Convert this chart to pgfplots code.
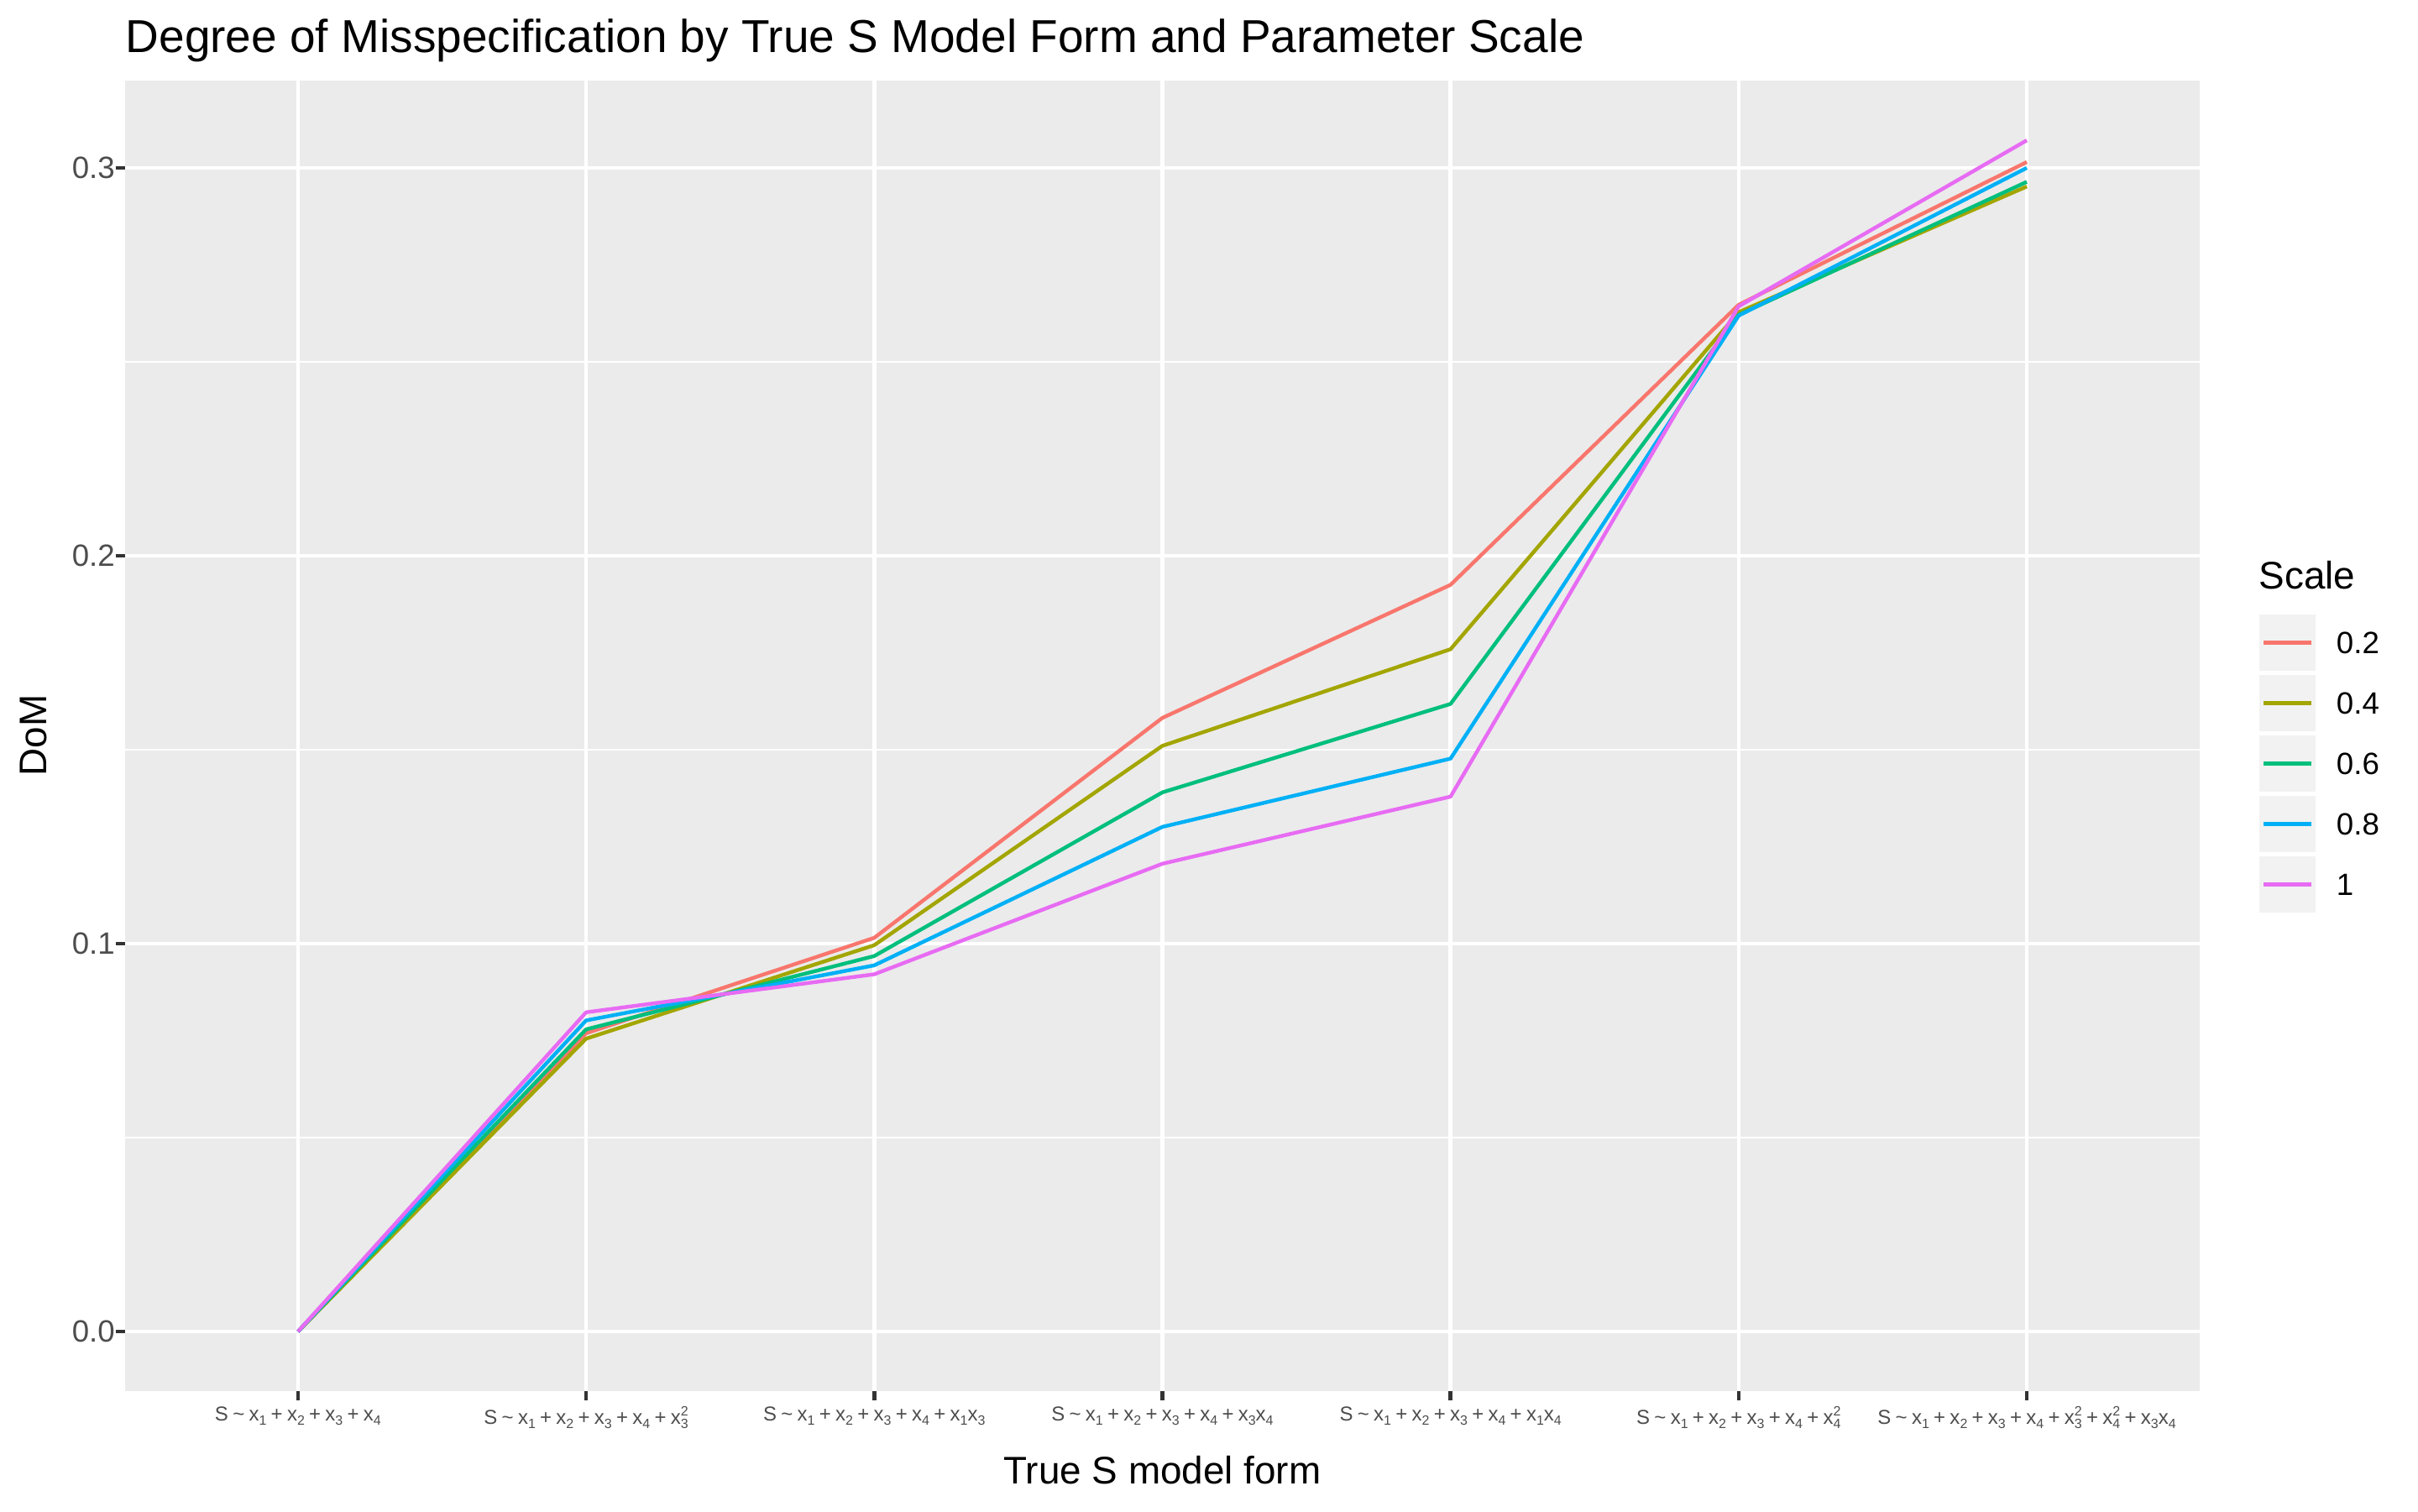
\documentclass[border=0pt]{standalone}
\usepackage{fontspec}
\setmainfont{Liberation Sans}
\usepackage{pgfplots}
\pgfplotsset{compat=1.18}
\definecolor{c1}{HTML}{F8766D}
\definecolor{c2}{HTML}{A3A500}
\definecolor{c3}{HTML}{00BF7D}
\definecolor{c4}{HTML}{00B0F6}
\definecolor{c5}{HTML}{E76BF3}
\definecolor{grey92}{HTML}{EBEBEB}
\definecolor{grey95}{HTML}{F2F2F2}
\definecolor{grey30}{HTML}{4D4D4D}
\definecolor{grey20}{HTML}{333333}
\newcommand{\subf}{\fontsize{4}{4}\selectfont}
\newcommand{\xs}[1]{x\raisebox{-1.25pt}{\subf #1}}
\newcommand{\xss}[2]{x\makebox[0pt][l]{\raisebox{2.5pt}{\subf #2}}\raisebox{-1.25pt}{\subf #1}}
\newcommand{\op}[1]{\hspace{0.22em}#1\hspace{0.22em}}
\newcommand{\Sy}{S\op{\textasciitilde}}
\newcommand{\base}{\xs{1}\op{+}\xs{2}\op{+}\xs{3}\op{+}\xs{4}}
\begin{document}
\begin{tikzpicture}
\begin{axis}[
  at={(37.25pt,35.75pt)}, anchor=south west,
  scale only axis, width=617.75pt, height=390.25pt,
  xmin=0.4, xmax=7.6, ymin=-0.01536, ymax=0.3225,
  axis background/.style={fill=grey92},
  axis x line*=bottom, axis y line*=left, axis line style={draw=none},
  xtick={1,2,3,4,5,6,7},
  xticklabels={
    {\Sy\base},
    {\Sy\base\op{+}\xss{3}{2}},
    {\Sy\base\op{+}\xs{1}\xs{3}},
    {\Sy\base\op{+}\xs{3}\xs{4}},
    {\Sy\base\op{+}\xs{1}\xs{4}},
    {\Sy\base\op{+}\xss{4}{2}},
    {\Sy\base\op{+}\xss{3}{2}\op{+}\xss{4}{2}\op{+}\xs{3}\xs{4}}},
  ytick={0,0.1,0.2,0.3}, yticklabels={0.0,0.1,0.2,0.3},
  minor ytick={0.05,0.15,0.25},
  xmajorgrids, ymajorgrids, yminorgrids,
  major grid style={white, line width=1.11pt},
  minor grid style={white, line width=0.56pt},
  tick align=outside, major tick length=2.86pt, minor tick length=0pt,
  tick style={grey20, line width=1.11pt},
  xticklabel style={anchor=north, inner sep=0pt, yshift=-1.5pt, font=\fontsize{6}{7}\selectfont, text=grey30},
  yticklabel style={anchor=east, inner sep=0pt, font=\fontsize{9.17}{11}\selectfont, text=grey30},
  legend style={at={(1.02873,0.59417)}, anchor=north west, draw=none, fill=none,
    inner sep=0pt, outer sep=0pt, row sep=0pt,
    font=\fontsize{9.17}{11}\selectfont,
    nodes={inner sep=0pt, text depth=0pt, text=black},
    /tikz/every odd column/.append style={column sep=6.25pt}},
  legend cell align=left,
  legend image code/.code={
    \path[draw=none, fill=none] (0pt,-9pt) rectangle (16.75pt,9pt);
    \path[draw=none, fill=grey95] (0pt,-8.375pt) rectangle (16.75pt,8.375pt);
    \draw[#1] (1.25pt,0pt) -- (15.5pt,0pt);},
]
\addplot[c1, line width=1.11pt, line join=round] coordinates {(1,0) (2,0.0769) (3,0.1015) (4,0.1582) (5,0.1925) (6,0.2647) (7,0.3015)};
\addlegendentry{0.2}
\addplot[c2, line width=1.11pt, line join=round] coordinates {(1,0) (2,0.0755) (3,0.0996) (4,0.1510) (5,0.1759) (6,0.2628) (7,0.2952)};
\addlegendentry{0.4}
\addplot[c3, line width=1.11pt, line join=round] coordinates {(1,0) (2,0.0779) (3,0.0968) (4,0.1390) (5,0.1618) (6,0.2621) (7,0.2964)};
\addlegendentry{0.6}
\addplot[c4, line width=1.11pt, line join=round] coordinates {(1,0) (2,0.0802) (3,0.0944) (4,0.1301) (5,0.1477) (6,0.2619) (7,0.3000)};
\addlegendentry{0.8}
\addplot[c5, line width=1.11pt, line join=round] coordinates {(1,0) (2,0.0823) (3,0.0921) (4,0.1206) (5,0.1379) (6,0.2643) (7,0.3071)};
\addlegendentry{1}
\end{axis}
\node[anchor=base west, inner sep=0pt, font=\fontsize{13.75}{16}\selectfont] at (37.25pt,434.25pt) {Degree of Misspecification by True S Model Form and Parameter Scale};
\node[anchor=base, inner sep=0pt, font=\fontsize{11.46}{13}\selectfont] at (346.1pt,8.25pt) {True S model form};
\node[anchor=base, rotate=90, inner sep=0pt, font=\fontsize{11.46}{13}\selectfont] at (13.8pt,231pt) {DoM};
\node[anchor=base west, inner sep=0pt, font=\fontsize{11.46}{13}\selectfont] at (672.5pt,274.5pt) {Scale};
\pgfresetboundingbox
\useasboundingbox (0pt,0pt) rectangle (720pt,450pt);
\end{tikzpicture}
\end{document}
